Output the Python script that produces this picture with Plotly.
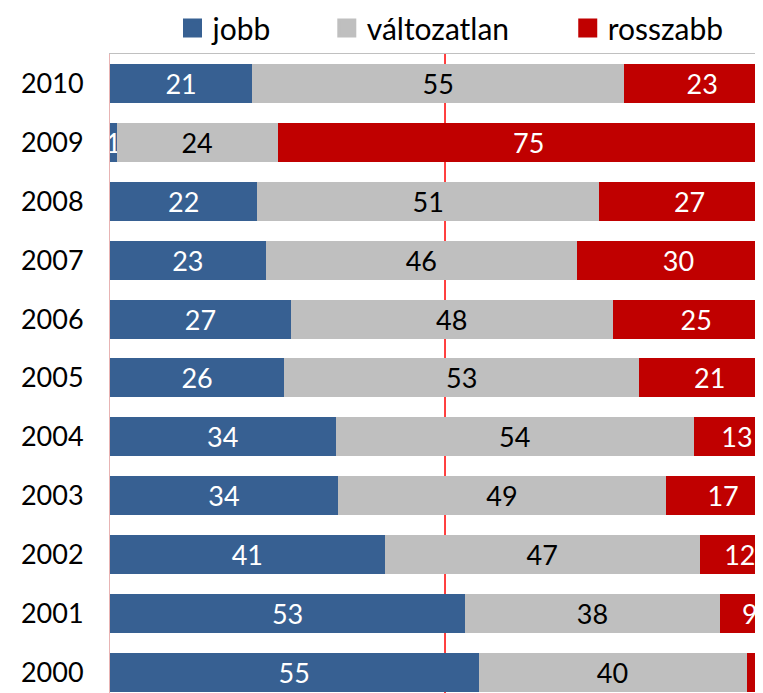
import plotly.graph_objects as go

years = ["2000", "2001", "2002", "2003", "2004", "2005", "2006", "2007", "2008", "2009", "2010"]
jobb = [55, 53, 41, 34, 34, 26, 27, 23, 22, 1, 21]
valtozatlan = [40, 38, 47, 49, 54, 53, 48, 46, 51, 24, 55]
rosszabb = [5, 9, 12, 17, 13, 21, 25, 30, 27, 75, 23]
MIDLINE = 50

series = [
    ("jobb", jobb, "#376092", "white", "legend"),
    ("változatlan", valtozatlan, "#BFBFBF", "black", "legend2"),
    ("rosszabb", rosszabb, "#C00000", "white", "legend3"),
]

FONT = "Lato"
fig = go.Figure()
for name, vals, color, tcolor, lg in series:
    fig.add_trace(go.Bar(
        y=years, x=vals, orientation="h", name=name,
        marker=dict(color=color, line=dict(width=0)),
        text=[str(v) for v in vals], texttemplate="%{text}",
        textposition="inside", insidetextanchor="middle", textangle=0,
        constraintext="none", cliponaxis=True,
        textfont=dict(family=FONT, size=27, color=tcolor),
        showlegend=False, hoverinfo="skip",
    ))
for name, vals, color, tcolor, lg in series:
    fig.add_trace(go.Scatter(
        x=[None], y=[None], mode="markers", name=name,
        marker=dict(symbol="square", size=16, color=color,
                    line=dict(width=3, color=color)),
        legend=lg, showlegend=True,
    ))

fig.add_shape(type="line", xref="x", yref="paper", x0=MIDLINE, x1=MIDLINE,
              y0=0, y1=1, line=dict(color="#FF0000", width=1.5), layer="below")

PLOT_H = 685 - 46
leg_common = dict(orientation="h", yanchor="middle", y=1 + 26 / PLOT_H, xanchor="left",
                  font=dict(family=FONT, size=30, color="black"),
                  bgcolor="rgba(0,0,0,0)", borderwidth=0, itemwidth=30)
# the page body adds an 8px margin; figure is sized so the plot lands at x=110, y=54
fig.update_layout(
    width=755, height=685,
    margin=dict(l=102, r=0, t=46, b=0, pad=0, autoexpand=False),
    barmode="stack", barnorm="percent", bargap=0.338,
    plot_bgcolor="white", paper_bgcolor="white",
    legend=dict(x=0.0957, **leg_common),
    legend2=dict(x=0.332, **leg_common),
    legend3=dict(x=0.701, **leg_common),
    xaxis=dict(range=[0, 97.46], side="top", showticklabels=False,
               showgrid=False, ticks="", zeroline=False,
               showline=True, linecolor="#C0C0C0", linewidth=1,
               automargin=False, fixedrange=True),
    yaxis=dict(type="category", categoryorder="array", categoryarray=years,
               range=[10.5 - PLOT_H / 58.9, 10.5], showgrid=False, zeroline=False,
               showline=True, linecolor="#E8B4B4", linewidth=1,
               ticks="", ticklabelstandoff=20,
               tickfont=dict(family=FONT, size=27, color="black"),
               layer="below traces", automargin=False, fixedrange=True),
)
fig.write_html("out.html")
